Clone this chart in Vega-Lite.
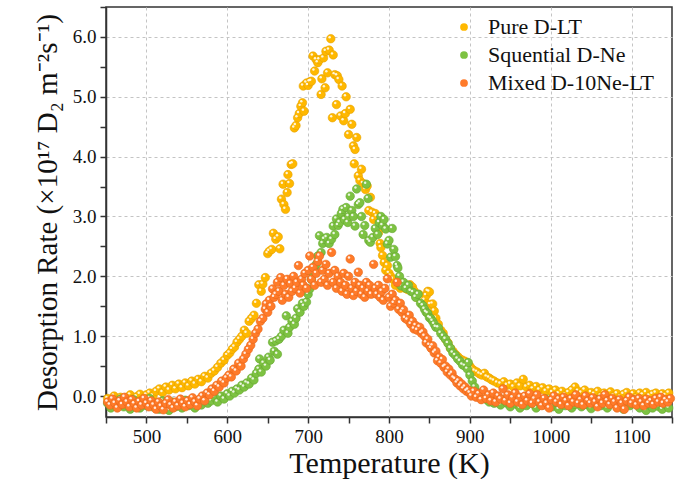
{
  "$schema": "https://vega.github.io/schema/vega-lite/v6.json",
  "width": 566,
  "height": 410,
  "autosize": "none",
  "padding": {"left": 106, "top": 7, "right": 9, "bottom": 62},
  "background": "white",
  "config": {
    "font": "Liberation Serif",
    "view": {"stroke": "#333333", "strokeWidth": 1.5},
    "axis": {
      "domainColor": "#333333", "domainWidth": 1.5,
      "tickColor": "#333333", "tickWidth": 1.5, "tickSize": 6,
      "labelColor": "#111111", "labelFontSize": 19, "labelFont": "Liberation Serif",
      "titleColor": "#111111", "titleFontSize": 30, "titleFontWeight": "normal", "titleFont": "Liberation Serif",
      "gridColor": "#c4c4c4", "gridDash": [3, 3], "gridWidth": 1,
      "labelFlush": false, "labelOverlap": false
    },
    "legend": {
      "orient": "none", "legendX": 347, "legendY": 9, "padding": 0,
      "labelFont": "Liberation Serif", "labelFontSize": 22, "labelColor": "#111111",
      "symbolType": "circle", "symbolSize": 60, "symbolStrokeWidth": 0,
      "rowPadding": 6, "labelOffset": 13, "labelLimit": 400
    }
  },
  "datasets": {
    "pure": [
      {"x":452,"y":-0.04},{"x":456,"y":-0.08},{"x":460,"y":0.0},{"x":464,"y":-0.06},{"x":468,"y":-0.02},{"x":472,"y":-0.1},{"x":476,"y":-0.03},{"x":480,"y":0.02},{"x":484,"y":-0.05},{"x":488,"y":-0.01},{"x":492,"y":0.03},{"x":496,"y":-0.04},{"x":500,"y":0.02},{"x":504,"y":0.05},{"x":508,"y":0.0},{"x":512,"y":0.08},{"x":516,"y":0.12},{"x":520,"y":0.06},{"x":524,"y":0.15},{"x":528,"y":0.1},{"x":532,"y":0.18},{"x":536,"y":0.12},{"x":540,"y":0.2},{"x":544,"y":0.14},{"x":548,"y":0.22},{"x":552,"y":0.17},{"x":556,"y":0.25},{"x":560,"y":0.2},{"x":564,"y":0.28},{"x":568,"y":0.24},{"x":572,"y":0.33},{"x":576,"y":0.3},{"x":580,"y":0.38},{"x":584,"y":0.42},{"x":588,"y":0.48},{"x":592,"y":0.55},{"x":596,"y":0.6},{"x":600,"y":0.68},
      {"x":603,"y":0.72},{"x":606,"y":0.78},{"x":609,"y":0.82},{"x":612,"y":0.9},{"x":615,"y":0.95},{"x":618,"y":1.0},{"x":621,"y":1.1},{"x":624,"y":1.05},{"x":627,"y":1.25},{"x":630,"y":1.3},{"x":633,"y":1.35},{"x":636,"y":1.55},{"x":639,"y":1.86},{"x":642,"y":1.75},{"x":644,"y":1.87},{"x":647,"y":1.98},{"x":650,"y":2.38},{"x":652,"y":2.42},{"x":655,"y":2.45},{"x":657,"y":2.72},{"x":660,"y":2.62},{"x":663,"y":2.66},{"x":665,"y":2.46},{"x":667,"y":3.29},{"x":669,"y":3.54},{"x":670,"y":3.2},{"x":672,"y":3.12},{"x":674,"y":3.4},{"x":675,"y":3.7},{"x":677,"y":3.55},{"x":679,"y":3.87},{"x":681,"y":3.88},{"x":683,"y":4.48},{"x":685,"y":4.52},{"x":687,"y":4.65},{"x":689,"y":4.72},{"x":691,"y":4.84},{"x":693,"y":4.9},{"x":695,"y":4.76},{"x":694,"y":5.18},{"x":698,"y":5.23},{"x":700,"y":5.19},{"x":702,"y":5.25},{"x":704,"y":5.26},{"x":706,"y":5.68},{"x":708,"y":5.43},{"x":710,"y":5.62},{"x":712,"y":5.57},{"x":714,"y":5.62},{"x":716,"y":5.04},{"x":717,"y":5.3},{"x":719,"y":5.65},{"x":721,"y":5.15},{"x":722,"y":5.76},{"x":724,"y":5.4},{"x":726,"y":5.78},{"x":728,"y":5.97},{"x":730,"y":4.65},{"x":731,"y":5.7},{"x":733,"y":5.37},{"x":735,"y":4.87},{"x":736,"y":5.35},{"x":738,"y":5.29},{"x":740,"y":4.68},{"x":742,"y":5.18},{"x":744,"y":4.6},{"x":746,"y":4.72},{"x":747,"y":5.0},{"x":750,"y":4.37},{"x":752,"y":4.79},{"x":754,"y":4.54},{"x":756,"y":4.18},{"x":758,"y":4.12},{"x":760,"y":4.32},{"x":757,"y":3.88},{"x":762,"y":3.68},{"x":764,"y":3.6},{"x":766,"y":3.79},{"x":768,"y":3.55},{"x":771,"y":3.45},{"x":773,"y":3.51},{"x":775,"y":3.1},{"x":777,"y":3.32},{"x":779,"y":3.07},{"x":781,"y":2.95},{"x":783,"y":3.05},{"x":785,"y":3.0},{"x":787,"y":2.73},{"x":789,"y":2.55},{"x":790,"y":2.48},{"x":792,"y":2.35},{"x":794,"y":2.23},{"x":796,"y":2.1},{"x":798,"y":2.18},{"x":800,"y":2.05},{"x":802,"y":2.0},{"x":805,"y":1.95},{"x":808,"y":1.85},{"x":811,"y":1.9},{"x":814,"y":1.8},{"x":817,"y":1.88},{"x":820,"y":1.8},{"x":823,"y":1.78},{"x":826,"y":1.86},{"x":829,"y":1.82},{"x":831,"y":1.76},{"x":834,"y":1.65},{"x":837,"y":1.7},{"x":840,"y":1.62},{"x":842,"y":1.58},{"x":844,"y":1.6},{"x":846,"y":1.68},{"x":848,"y":1.75},{"x":850,"y":1.74},{"x":851,"y":1.53},{"x":854,"y":1.54},{"x":856,"y":1.42},{"x":858,"y":1.3},{"x":861,"y":1.2},{"x":864,"y":1.1},{"x":867,"y":1.05},{"x":870,"y":0.95},{"x":873,"y":0.89},{"x":876,"y":0.8},{"x":879,"y":0.75},{"x":882,"y":0.7},{"x":885,"y":0.66},{"x":888,"y":0.62},{"x":891,"y":0.6},{"x":894,"y":0.58},{"x":897,"y":0.55},{"x":900,"y":0.5},{"x":903,"y":0.45},{"x":906,"y":0.42},{"x":909,"y":0.4},{"x":912,"y":0.37},{"x":915,"y":0.35},{"x":918,"y":0.38},{"x":921,"y":0.32},{"x":924,"y":0.3},{"x":927,"y":0.27},{"x":930,"y":0.25},
      {"x":934,"y":0.22},{"x":938,"y":0.2},{"x":942,"y":0.24},{"x":946,"y":0.18},{"x":950,"y":0.2},{"x":954,"y":0.15},{"x":958,"y":0.22},{"x":962,"y":0.17},{"x":966,"y":0.28},{"x":970,"y":0.15},{"x":974,"y":0.18},{"x":978,"y":0.12},{"x":982,"y":0.16},{"x":986,"y":0.1},{"x":990,"y":0.14},{"x":994,"y":0.08},{"x":998,"y":0.12},{"x":1002,"y":0.06},{"x":1006,"y":0.1},{"x":1010,"y":0.04},{"x":1014,"y":0.08},{"x":1018,"y":0.02},{"x":1022,"y":0.06},{"x":1026,"y":0.1},{"x":1030,"y":0.15},{"x":1034,"y":0.08},{"x":1038,"y":0.05},{"x":1042,"y":0.1},{"x":1046,"y":0.02},{"x":1050,"y":0.06},{"x":1054,"y":0.03},{"x":1058,"y":0.08},{"x":1062,"y":0.0},{"x":1066,"y":0.05},{"x":1070,"y":0.02},{"x":1074,"y":0.07},{"x":1078,"y":0.0},{"x":1082,"y":0.04},{"x":1086,"y":-0.02},{"x":1090,"y":0.03},{"x":1094,"y":0.06},{"x":1098,"y":0.0},{"x":1102,"y":0.04},{"x":1106,"y":-0.02},{"x":1110,"y":0.05},{"x":1114,"y":0.02},{"x":1118,"y":0.06},{"x":1122,"y":0.0},{"x":1126,"y":0.03},{"x":1130,"y":0.05},{"x":1134,"y":-0.02},{"x":1138,"y":0.04},{"x":1142,"y":0.01},{"x":1146,"y":0.05}
    ],
    "seq": [
      {"x":452,"y":-0.12},{"x":456,"y":-0.2},{"x":460,"y":-0.08},{"x":464,"y":-0.15},{"x":468,"y":-0.05},{"x":472,"y":-0.18},{"x":476,"y":-0.1},{"x":480,"y":-0.22},{"x":484,"y":-0.06},{"x":488,"y":-0.14},{"x":492,"y":-0.2},{"x":496,"y":-0.09},{"x":500,"y":-0.16},{"x":504,"y":-0.04},{"x":508,"y":-0.18},{"x":512,"y":-0.12},{"x":516,"y":-0.22},{"x":520,"y":-0.08},{"x":524,"y":-0.16},{"x":528,"y":-0.24},{"x":532,"y":-0.1},{"x":536,"y":-0.18},{"x":540,"y":-0.13},{"x":544,"y":-0.2},{"x":548,"y":-0.07},{"x":552,"y":-0.16},{"x":556,"y":-0.12},{"x":560,"y":-0.2},{"x":564,"y":-0.1},{"x":568,"y":-0.15},{"x":572,"y":-0.05},{"x":576,"y":-0.12},{"x":580,"y":-0.08},{"x":584,"y":-0.02},{"x":588,"y":-0.1},{"x":592,"y":0.0},{"x":596,"y":-0.05},{"x":600,"y":0.04},
      {"x":603,"y":0.0},{"x":606,"y":0.08},{"x":609,"y":0.05},{"x":612,"y":0.12},{"x":615,"y":0.1},{"x":618,"y":0.18},{"x":621,"y":0.15},{"x":624,"y":0.22},{"x":627,"y":0.2},{"x":630,"y":0.3},{"x":633,"y":0.27},{"x":636,"y":0.38},{"x":639,"y":0.45},{"x":640,"y":0.62},{"x":642,"y":0.4},{"x":645,"y":0.55},{"x":648,"y":0.5},{"x":651,"y":0.65},{"x":653,"y":0.6},{"x":656,"y":0.9},{"x":658,"y":0.75},{"x":660,"y":0.92},{"x":662,"y":0.7},{"x":664,"y":0.95},{"x":667,"y":1.0},{"x":670,"y":1.1},{"x":673,"y":1.34},{"x":675,"y":1.05},{"x":677,"y":1.15},{"x":680,"y":1.25},{"x":683,"y":1.2},{"x":685,"y":1.3},{"x":687,"y":1.46},{"x":690,"y":1.4},{"x":693,"y":1.55},{"x":695,"y":1.5},{"x":698,"y":1.57},{"x":700,"y":1.7},{"x":702,"y":1.79},{"x":704,"y":1.95},{"x":706,"y":2.05},{"x":708,"y":2.15},{"x":710,"y":2.2},{"x":712,"y":2.34},{"x":714,"y":2.68},{"x":716,"y":2.4},{"x":718,"y":2.55},{"x":720,"y":2.62},{"x":723,"y":2.65},{"x":726,"y":2.55},{"x":729,"y":2.62},{"x":731,"y":2.84},{"x":733,"y":2.7},{"x":735,"y":2.96},{"x":737,"y":2.85},{"x":739,"y":2.9},{"x":741,"y":3.05},{"x":743,"y":3.12},{"x":745,"y":2.95},{"x":747,"y":3.15},{"x":749,"y":2.9},{"x":750,"y":3.0},{"x":752,"y":3.34},{"x":754,"y":3.1},{"x":756,"y":3.0},{"x":758,"y":2.84},{"x":760,"y":3.46},{"x":762,"y":3.2},{"x":764,"y":3.23},{"x":766,"y":3.0},{"x":768,"y":2.7},{"x":770,"y":2.85},{"x":772,"y":3.54},{"x":774,"y":3.3},{"x":775,"y":2.6},{"x":777,"y":2.57},{"x":780,"y":2.65},{"x":783,"y":2.8},{"x":786,"y":2.7},{"x":788,"y":2.9},{"x":790,"y":3.0},{"x":792,"y":2.85},{"x":794,"y":2.95},{"x":796,"y":2.79},{"x":798,"y":2.54},{"x":800,"y":2.6},{"x":802,"y":2.32},{"x":804,"y":2.8},{"x":806,"y":2.45},{"x":808,"y":2.33},{"x":810,"y":2.18},{"x":811,"y":2.14},{"x":813,"y":2.0},{"x":815,"y":1.84},{"x":818,"y":1.9},{"x":821,"y":1.8},{"x":824,"y":1.85},{"x":827,"y":1.75},{"x":830,"y":1.73},{"x":833,"y":1.65},{"x":836,"y":1.7},{"x":839,"y":1.55},{"x":842,"y":1.51},{"x":844,"y":1.45},{"x":846,"y":1.4},{"x":848,"y":1.38},{"x":850,"y":1.31},{"x":852,"y":1.29},{"x":854,"y":1.25},{"x":856,"y":1.2},{"x":858,"y":1.15},{"x":861,"y":1.14},{"x":864,"y":1.05},{"x":867,"y":1.0},{"x":870,"y":0.95},{"x":873,"y":0.88},{"x":876,"y":0.8},{"x":879,"y":0.72},{"x":882,"y":0.68},{"x":885,"y":0.62},{"x":888,"y":0.58},{"x":891,"y":0.52},{"x":894,"y":0.5},{"x":897,"y":0.45},{"x":898,"y":0.56},{"x":900,"y":0.35},{"x":903,"y":0.25},{"x":906,"y":0.15},{"x":909,"y":0.06},{"x":912,"y":0.03},{"x":915,"y":-0.02},{"x":918,"y":0.0},{"x":921,"y":-0.06},{"x":924,"y":-0.1},{"x":927,"y":-0.05},{"x":930,"y":-0.12},
      {"x":934,"y":-0.08},{"x":938,"y":-0.15},{"x":942,"y":-0.06},{"x":946,"y":-0.12},{"x":950,"y":-0.18},{"x":954,"y":-0.08},{"x":958,"y":-0.14},{"x":962,"y":-0.2},{"x":966,"y":-0.1},{"x":970,"y":-0.16},{"x":974,"y":-0.06},{"x":978,"y":-0.13},{"x":982,"y":-0.2},{"x":986,"y":-0.1},{"x":990,"y":-0.15},{"x":994,"y":-0.05},{"x":998,"y":-0.12},{"x":1002,"y":-0.18},{"x":1006,"y":-0.1},{"x":1010,"y":-0.22},{"x":1014,"y":-0.12},{"x":1018,"y":-0.16},{"x":1022,"y":-0.08},{"x":1026,"y":-0.2},{"x":1030,"y":-0.14},{"x":1034,"y":-0.1},{"x":1038,"y":-0.18},{"x":1042,"y":-0.08},{"x":1046,"y":-0.15},{"x":1050,"y":-0.21},{"x":1054,"y":-0.12},{"x":1058,"y":-0.06},{"x":1062,"y":-0.16},{"x":1066,"y":-0.1},{"x":1070,"y":-0.2},{"x":1074,"y":-0.13},{"x":1078,"y":-0.08},{"x":1082,"y":-0.18},{"x":1086,"y":-0.12},{"x":1090,"y":-0.22},{"x":1094,"y":-0.1},{"x":1098,"y":-0.16},{"x":1102,"y":-0.06},{"x":1106,"y":-0.14},{"x":1110,"y":-0.2},{"x":1114,"y":-0.1},{"x":1118,"y":-0.24},{"x":1122,"y":-0.15},{"x":1126,"y":-0.2},{"x":1130,"y":-0.12},{"x":1134,"y":-0.18},{"x":1138,"y":-0.22},{"x":1142,"y":-0.14},{"x":1146,"y":-0.2}
    ],
    "mixed": [
      {"x":452,"y":-0.1},{"x":455,"y":-0.15},{"x":458,"y":-0.05},{"x":461,"y":-0.12},{"x":464,"y":-0.2},{"x":467,"y":-0.08},{"x":470,"y":-0.14},{"x":473,"y":-0.02},{"x":476,"y":-0.1},{"x":479,"y":-0.18},{"x":482,"y":-0.06},{"x":485,"y":-0.13},{"x":488,"y":-0.2},{"x":491,"y":-0.09},{"x":494,"y":-0.15},{"x":497,"y":-0.04},{"x":500,"y":-0.12},{"x":503,"y":-0.18},{"x":506,"y":-0.08},{"x":509,"y":-0.15},{"x":512,"y":-0.22},{"x":515,"y":-0.1},{"x":518,"y":-0.17},{"x":521,"y":-0.23},{"x":524,"y":-0.12},{"x":527,"y":-0.06},{"x":530,"y":-0.15},{"x":533,"y":-0.2},{"x":536,"y":-0.1},{"x":539,"y":-0.16},{"x":542,"y":-0.05},{"x":545,"y":-0.12},{"x":548,"y":-0.18},{"x":551,"y":-0.08},{"x":554,"y":-0.14},{"x":557,"y":-0.03},{"x":560,"y":-0.1},{"x":563,"y":-0.16},{"x":566,"y":-0.05},{"x":569,"y":0.0},{"x":572,"y":-0.08},{"x":575,"y":0.05},{"x":578,"y":0.02},{"x":581,"y":0.12},{"x":584,"y":0.08},{"x":587,"y":0.18},{"x":590,"y":0.15},{"x":593,"y":0.25},{"x":596,"y":0.22},{"x":599,"y":0.3},{"x":602,"y":0.35},{"x":605,"y":0.32},{"x":608,"y":0.45},{"x":611,"y":0.42},{"x":614,"y":0.55},{"x":617,"y":0.5},{"x":620,"y":0.62},{"x":623,"y":0.7},{"x":626,"y":0.78},{"x":629,"y":0.85},{"x":632,"y":0.95},{"x":635,"y":1.05},{"x":638,"y":1.12},{"x":641,"y":1.25},{"x":644,"y":1.3},{"x":647,"y":1.45},{"x":648,"y":1.54},{"x":650,"y":1.4},{"x":652,"y":1.6},{"x":654,"y":1.5},{"x":656,"y":1.79},{"x":658,"y":1.65},{"x":660,"y":1.7},{"x":662,"y":1.9},{"x":664,"y":1.75},{"x":666,"y":1.98},{"x":668,"y":1.6},{"x":670,"y":1.85},{"x":672,"y":1.7},{"x":674,"y":1.95},{"x":676,"y":1.65},{"x":678,"y":1.88},{"x":680,"y":1.75},{"x":682,"y":2.0},{"x":684,"y":1.8},{"x":686,"y":1.9},{"x":688,"y":2.18},{"x":690,"y":1.72},{"x":692,"y":1.95},{"x":694,"y":1.85},{"x":696,"y":2.05},{"x":698,"y":1.8},{"x":700,"y":2.1},{"x":702,"y":2.34},{"x":704,"y":1.95},{"x":706,"y":2.15},{"x":708,"y":1.85},{"x":710,"y":2.05},{"x":712,"y":2.25},{"x":714,"y":2.34},{"x":716,"y":1.9},{"x":718,"y":2.1},{"x":720,"y":1.95},{"x":722,"y":2.2},{"x":724,"y":1.85},{"x":726,"y":2.05},{"x":729,"y":2.4},{"x":731,"y":1.9},{"x":733,"y":2.1},{"x":735,"y":1.8},{"x":737,"y":2.0},{"x":740,"y":1.9},{"x":742,"y":1.75},{"x":744,"y":2.05},{"x":746,"y":1.85},{"x":748,"y":1.7},{"x":750,"y":2.0},{"x":752,"y":2.29},{"x":754,"y":1.8},{"x":756,"y":1.68},{"x":758,"y":1.9},{"x":760,"y":1.75},{"x":762,"y":2.07},{"x":764,"y":1.85},{"x":766,"y":1.7},{"x":768,"y":1.8},{"x":770,"y":1.65},{"x":772,"y":1.9},{"x":774,"y":1.75},{"x":776,"y":1.85},{"x":778,"y":1.7},{"x":781,"y":2.2},{"x":783,"y":1.8},{"x":785,"y":1.7},{"x":787,"y":1.85},{"x":789,"y":1.65},{"x":791,"y":1.75},{"x":793,"y":1.6},{"x":795,"y":1.8},{"x":798,"y":1.96},{"x":800,"y":1.65},{"x":802,"y":1.5},{"x":804,"y":1.7},{"x":806,"y":1.55},{"x":808,"y":1.6},{"x":810,"y":1.9},{"x":812,"y":1.45},{"x":814,"y":1.55},{"x":816,"y":1.4},{"x":818,"y":1.44},{"x":820,"y":1.3},{"x":823,"y":1.27},{"x":825,"y":1.35},{"x":827,"y":1.2},{"x":829,"y":1.25},{"x":831,"y":1.12},{"x":833,"y":1.18},{"x":835,"y":1.1},{"x":838,"y":1.15},{"x":840,"y":1.05},{"x":842,"y":1.07},{"x":844,"y":1.0},{"x":846,"y":0.89},{"x":848,"y":0.95},{"x":850,"y":0.85},{"x":852,"y":0.8},{"x":854,"y":0.84},{"x":856,"y":0.72},{"x":858,"y":0.75},{"x":860,"y":0.59},{"x":862,"y":0.65},{"x":864,"y":0.55},{"x":866,"y":0.61},{"x":868,"y":0.48},{"x":870,"y":0.5},{"x":872,"y":0.4},{"x":874,"y":0.45},{"x":876,"y":0.35},{"x":878,"y":0.38},{"x":880,"y":0.3},{"x":882,"y":0.28},{"x":884,"y":0.22},{"x":886,"y":0.25},{"x":888,"y":0.17},{"x":890,"y":0.2},{"x":892,"y":0.12},{"x":894,"y":0.15},{"x":896,"y":0.08},{"x":898,"y":0.1},{"x":900,"y":0.05},{"x":902,"y":0.0},{"x":905,"y":0.08},{"x":908,"y":-0.02},{"x":911,"y":0.04},{"x":914,"y":-0.06},{"x":917,"y":0.1},{"x":920,"y":-0.04},{"x":923,"y":0.02},{"x":926,"y":-0.08},{"x":929,"y":0.05},{"x":932,"y":-0.1},{"x":935,"y":0.0},{"x":938,"y":-0.05},{"x":941,"y":0.12},{"x":944,"y":-0.08},{"x":947,"y":0.02},{"x":950,"y":-0.12},{"x":953,"y":-0.03},{"x":956,"y":0.05},{"x":959,"y":-0.1},{"x":962,"y":-0.02},{"x":965,"y":-0.14},{"x":968,"y":0.0},{"x":971,"y":-0.08},{"x":974,"y":0.04},{"x":977,"y":-0.12},{"x":980,"y":-0.05},{"x":983,"y":0.02},{"x":986,"y":-0.1},{"x":989,"y":-0.16},{"x":992,"y":-0.04},{"x":995,"y":-0.12},{"x":998,"y":-0.2},{"x":1001,"y":-0.06},{"x":1004,"y":0.0},{"x":1007,"y":-0.1},{"x":1010,"y":-0.05},{"x":1013,"y":-0.14},{"x":1016,"y":-0.02},{"x":1019,"y":-0.08},{"x":1022,"y":-0.16},{"x":1025,"y":-0.04},{"x":1028,"y":-0.1},{"x":1031,"y":0.02},{"x":1034,"y":-0.12},{"x":1037,"y":-0.06},{"x":1040,"y":-0.15},{"x":1043,"y":0.0},{"x":1046,"y":-0.08},{"x":1049,"y":-0.12},{"x":1052,"y":-0.03},{"x":1055,"y":-0.1},{"x":1058,"y":-0.18},{"x":1061,"y":-0.05},{"x":1064,"y":-0.12},{"x":1067,"y":0.02},{"x":1070,"y":-0.08},{"x":1073,"y":-0.14},{"x":1076,"y":-0.04},{"x":1079,"y":-0.1},{"x":1082,"y":-0.2},{"x":1085,"y":-0.06},{"x":1088,"y":-0.12},{"x":1091,"y":-0.22},{"x":1094,"y":-0.08},{"x":1097,"y":-0.02},{"x":1100,"y":-0.12},{"x":1103,"y":-0.06},{"x":1106,"y":-0.15},{"x":1109,"y":-0.04},{"x":1112,"y":-0.1},{"x":1115,"y":-0.16},{"x":1118,"y":-0.05},{"x":1121,"y":-0.12},{"x":1124,"y":-0.08},{"x":1127,"y":-0.14},{"x":1130,"y":-0.04},{"x":1133,"y":-0.1},{"x":1136,"y":-0.02},{"x":1139,"y":-0.12},{"x":1142,"y":-0.06},{"x":1145,"y":-0.1},{"x":1148,"y":-0.04}
    ]
  },
  "encoding": {
    "x": {
      "field": "x", "type": "quantitative",
      "scale": {"domain": [450, 1150], "nice": false, "zero": false},
      "axis": {
        "title": "Temperature (K)", "titlePadding": 2, "labelPadding": 4,
        "values": [450,500,550,600,650,700,750,800,850,900,950,1000,1050,1100,1150],
        "labelExpr": "datum.value % 100 === 0 ? format(datum.value, 'd') : ''",
        "grid": true,
        "gridOpacity": {"condition": {"test": "datum.value % 100 === 0", "value": 1}, "value": 0}
      }
    },
    "y": {
      "field": "y", "type": "quantitative",
      "scale": {"domain": [-0.35, 6.5], "nice": false, "zero": false},
      "axis": {
        "title": "Desorption Rate (×10¹⁷ D₂ m⁻²s⁻¹)", "titleFontSize": 29, "titlePadding": 10, "labelPadding": 4,
        "values": [0,0.5,1,1.5,2,2.5,3,3.5,4,4.5,5,5.5,6,6.5],
        "labelExpr": "datum.value % 1 === 0 ? format(datum.value, '.1f') : ''",
        "grid": true,
        "gridOpacity": {"condition": {"test": "datum.value % 1 === 0", "value": 1}, "value": 0}
      }
    }
  },
  "layer": [
    {
      "data": {"name": "pure"},
      "mark": {"type": "point", "filled": true, "size": 72, "opacity": 1, "stroke": "#E6A300", "strokeWidth": 0.6},
      "encoding": {
        "color": {
          "datum": "Pure D-LT", "type": "nominal",
          "scale": {"domain": ["Pure D-LT", "Squential D-Ne", "Mixed D-10Ne-LT"], "range": ["#FFB800", "#7DC242", "#FF7B2A"]},
          "legend": {"title": null}
        }
      }
    },
    {
      "data": {"name": "pure"},
      "mark": {"type": "point", "filled": true, "size": 6, "opacity": 0.85, "color": "white", "xOffset": -1.2, "yOffset": -1.5}
    },
    {
      "data": {"name": "seq"},
      "mark": {"type": "point", "filled": true, "size": 72, "opacity": 1, "stroke": "#66A830", "strokeWidth": 0.6},
      "encoding": {"color": {"datum": "Squential D-Ne", "type": "nominal"}}
    },
    {
      "data": {"name": "seq"},
      "mark": {"type": "point", "filled": true, "size": 6, "opacity": 0.85, "color": "white", "xOffset": -1.2, "yOffset": -1.5}
    },
    {
      "data": {"name": "mixed"},
      "mark": {"type": "point", "filled": true, "size": 72, "opacity": 1, "stroke": "#E8661A", "strokeWidth": 0.6},
      "encoding": {"color": {"datum": "Mixed D-10Ne-LT", "type": "nominal"}}
    },
    {
      "data": {"name": "mixed"},
      "mark": {"type": "point", "filled": true, "size": 6, "opacity": 0.85, "color": "white", "xOffset": -1.2, "yOffset": -1.5}
    }
  ]
}
